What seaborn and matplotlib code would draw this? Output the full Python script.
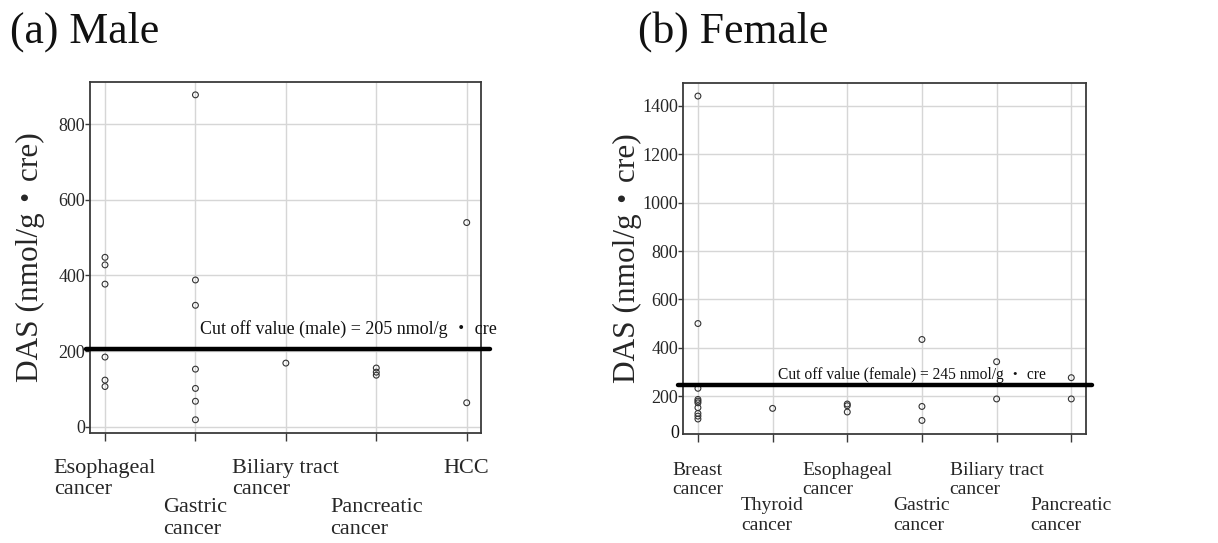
import matplotlib
matplotlib.use("Agg")
import matplotlib.pyplot as plt
import seaborn as sns
import pandas as pd

# ---------------- data ----------------
male_categories = ["Esophageal cancer", "Gastric cancer", "Biliary tract cancer",
                   "Pancreatic cancer", "HCC"]
male_labels = ["Esophageal\ncancer", "Gastric\ncancer", "Biliary tract\ncancer",
               "Pancreatic\ncancer", "HCC"]
male_esophageal = [448, 428, 377, 184, 123, 106]
male_gastric = [878, 388, 321, 152, 101, 67, 18]
male_biliary = [168]
male_pancreatic = [155, 144, 136]
male_hcc = [540, 63]
male_cutoff = 205

female_categories = ["Breast cancer", "Thyroid cancer", "Esophageal cancer",
                     "Gastric cancer", "Biliary tract cancer", "Pancreatic cancer"]
female_labels = ["Breast\ncancer", "Thyroid\ncancer", "Esophageal\ncancer",
                 "Gastric\ncancer", "Biliary tract\ncancer", "Pancreatic\ncancer"]
female_breast = [1441, 500, 232, 186, 179, 172, 152, 128, 117, 105]
female_thyroid = [149]
female_esophageal = [167, 160, 134]
female_gastric = [434, 157, 99]
female_biliary = [342, 188]
female_pancreatic = [276, 188]
female_cutoff = 245

male_ticks = [0, 200, 400, 600, 800]
female_ticks = [200, 400, 600, 800, 1000, 1200, 1400]


def long_frame(cats, groups):
    rows = []
    for c, vals in zip(cats, groups):
        for v in vals:
            rows.append({"cat": c, "DAS": v})
    return pd.DataFrame(rows)


male_df = long_frame(male_categories, [male_esophageal, male_gastric, male_biliary,
                                       male_pancreatic, male_hcc])
female_df = long_frame(female_categories, [female_breast, female_thyroid, female_esophageal,
                                           female_gastric, female_biliary, female_pancreatic])

# ---------------- style ----------------
sns.set_style("white")
plt.rcParams['font.family'] = ['Liberation Serif', 'Noto Sans CJK JP']
plt.rcParams['text.color'] = '#111111'

fig = plt.figure(figsize=(12.18, 5.43), dpi=100)
axL = fig.add_axes([90 / 1218, 1 - 433 / 543, 391 / 1218, 351 / 543])
axR = fig.add_axes([683 / 1218, 1 - 434 / 543, 403 / 1218, 351 / 543])

spine_c = '#3a3a3a'
grid_c = '#d6d6d6'
ylabel = "DAS (nmol/g\u30fbcre)"


def style_axes(ax, df, cats, labels, ticks, ylim, xlim, cutoff, cut_text, text_xy,
               text_size, xlab_size, pads, line_span, ylab_x):
    sns.stripplot(data=df, x="cat", y="DAS", order=cats, jitter=False, ax=ax,
                  marker='o', size=4.2, color='#333333', linewidth=0.8, zorder=3)
    for coll in ax.collections:
        coll.set_facecolor('none')
        coll.set_edgecolor('#333333')
    ax.set_xlim(*xlim)
    ax.set_ylim(*ylim)
    ax.set_yticks(ticks)
    ax.set_yticklabels([str(t) for t in ticks], fontsize=13)
    ax.set_xticks(range(len(cats)))
    ax.set_xticklabels(labels, fontsize=xlab_size, multialignment='left')
    ax.set_xlabel("")
    ax.set_ylabel(ylabel, fontsize=22.5)
    ax.yaxis.set_label_coords(ylab_x, 0.5)
    ax.grid(True, color=grid_c, linewidth=1.0, zorder=0)
    ax.set_axisbelow(True)
    for s in ax.spines.values():
        s.set_color(spine_c)
        s.set_linewidth(1.3)
        s.set_visible(True)
    ax.tick_params(axis='y', length=3.5, width=1, color=spine_c, pad=0, direction='out', left=True)
    ax.tick_params(axis='x', length=6, width=1, color=spine_c, direction='out', bottom=True)
    for i, t in enumerate(ax.xaxis.get_major_ticks()):
        t.set_pad(pads[i % 2])
    ax.axhline(cutoff, xmin=line_span[0], xmax=line_span[1], color='black',
               linewidth=3.2, clip_on=False, zorder=4)
    ax.text(text_xy[0], text_xy[1], cut_text, fontsize=text_size, va='center', ha='left',
            zorder=5, clip_on=False)


style_axes(axL, male_df, male_categories, male_labels, male_ticks, (-17, 912),
           (-0.166, 4.158), male_cutoff,
           "Cut off value (male) = 205 nmol/g \u30fb cre", (1.05, 258), 13, 16,
           (12.5, 41), (-0.01, 1.023), -0.115)
style_axes(axR, female_df, female_categories, female_labels, female_ticks, (43, 1495),
           (-0.2, 5.197), female_cutoff,
           "Cut off value (female) = 245 nmol/g \u30fb cre", (1.07, 286), 11.2, 14,
           (14, 39.5), (-0.012, 1.015), -0.102)
# bottom "0" label of the female axis as printed in the reference
axR.text(-0.01, 0.0, "0", transform=axR.transAxes, fontsize=13, ha='right', va='center')

fig.text(10 / 1218, 1 - 43 / 543, "(a) Male", fontsize=31.5, va='baseline', ha='left')
fig.text(638 / 1218, 1 - 43 / 543, "(b) Female", fontsize=31.5, va='baseline', ha='left')

fig.savefig("out.png", dpi=100)
